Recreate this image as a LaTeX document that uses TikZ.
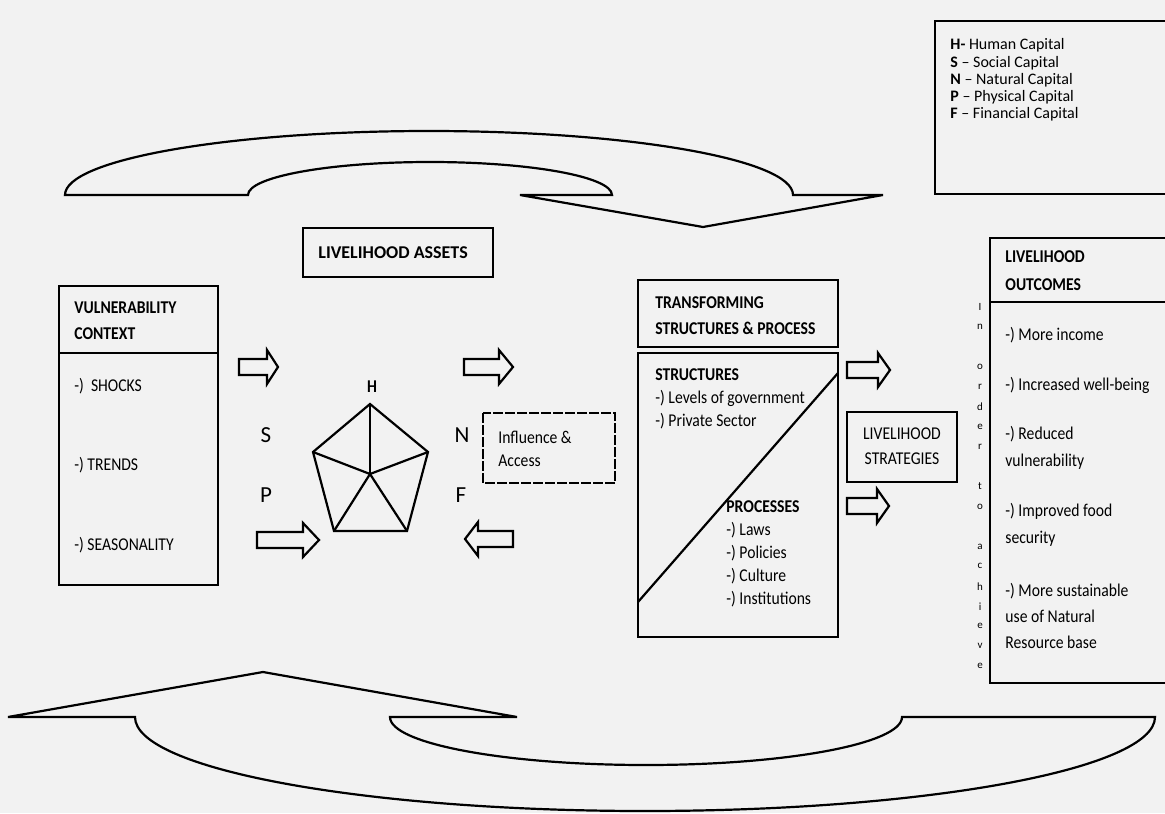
\documentclass[tikz,border=0pt]{standalone}
\usepackage{fontspec}
\setmainfont{Carlito}[FakeStretch=0.87]
\newfontfamily\legendfont{Carlito}[Ligatures=TeX]
\usetikzlibrary{positioning, calc}

\definecolor{bg}{RGB}{242,242,242}

\tikzset{
  box/.style={draw, line width=1.1pt},
  txt/.style={inner sep=0pt, anchor=west, align=left, font=\fontsize{9}{11.5}\selectfont},
  headtxt/.style={inner sep=0pt, anchor=west, align=left, font=\fontsize{9}{13}\selectfont\bfseries},
  bigarrow/.style={draw, line width=1.1pt, line join=miter},
  blockarr/.style={draw, line width=1.1pt, line join=miter},
  capletter/.style={inner sep=0pt, font=\legendfont\fontsize{11.5}{12}\selectfont},
  vletter/.style={inner sep=0pt, font=\legendfont\fontsize{5.5}{6}\selectfont},
}

% block arrow: start x, head base x, tip x, y
\newcommand{\blockarrow}[4]{%
  \draw[blockarr] (#1,{#4-8}) -- (#2,{#4-8}) -- (#2,{#4-17}) -- (#3,#4)
    -- (#2,{#4+17}) -- (#2,{#4+8}) -- (#1,{#4+8}) -- cycle;}

\begin{document}
\begin{tikzpicture}[x=0.5pt, y=-0.5pt]
\fill[bg] (0,0) rectangle (1165,813);
\useasboundingbox (0,0) rectangle (1165,813);

% big curved arrows
\draw[bigarrow] (65,195) arc[start angle=180, end angle=360, x radius=364, y radius=64]
  -- (883,195) -- (703,227) -- (520,195) -- (612,195)
  arc[start angle=360, end angle=180, x radius=182, y radius=33] -- cycle;
\draw[bigarrow] (8,717) -- (135,717)
  arc[start angle=180, end angle=0, x radius=510, y radius=94]
  -- (902,717) arc[start angle=0, end angle=180, x radius=256, y radius=48]
  -- (517,717) -- (263,672) -- cycle;

% legend
\draw[box] (935,21) rectangle (1170,194);
\node[txt, font=\legendfont\fontsize{8}{8.6}\selectfont] (legend) at (950,80)
  {\textbf{H-} Human Capital\\ \textbf{S} -- Social Capital\\ \textbf{N} -- Natural Capital\\
   \textbf{P} -- Physical Capital\\ \textbf{F} -- Financial Capital};

% livelihood assets
\draw[box] (303,228) rectangle (493,277);
\node[headtxt, font=\legendfont\fontsize{9}{13}\selectfont\bfseries] (assets) at (318,253) {LIVELIHOOD ASSETS};

% vulnerability context
\draw[box] (59,286) rectangle (218,353);
\draw[box] (59,353) rectangle (218,585);
\node[headtxt] (vulnhead) at (74,321) {VULNERABILITY\\CONTEXT};
\node[txt] (shocks) at (74,386) {-)\ \ SHOCKS};
\node[txt] (trends) at (74,465) {-) TRENDS};
\node[txt] (season) at (74,545) {-) SEASONALITY};

% pentagon of capitals
\coordinate (pH) at (370,404);
\coordinate (pS) at (313,452);
\coordinate (pP) at (334,531);
\coordinate (pF) at (407,531);
\coordinate (pN) at (428,452);
\coordinate (pc) at (370,474);
\draw[line width=1.1pt, line join=miter] (pH) -- (pS) -- (pP) -- (pF) -- (pN) -- cycle;
\foreach \v in {pH,pS,pP,pF,pN} \draw[line width=1.1pt] (pc) -- (\v);
\node[inner sep=0pt, font=\fontsize{9}{10}\selectfont\bfseries] (labH) at (372,387) {H};
\node[capletter] (labS) at (266,435) {S};
\node[capletter] (labP) at (266,495) {P};
\node[capletter] (labN) at (462,435) {N};
\node[capletter] (labF) at (461,495) {F};

% block arrows
\blockarrow{239}{267}{278}{367}
\blockarrow{257}{303}{319}{540}
\blockarrow{464}{499}{513}{367}
\blockarrow{513}{478}{465}{539}
\blockarrow{847}{878}{890}{370}
\blockarrow{847}{877}{889}{506}

% influence & access
\draw[line width=1.3pt, dash pattern=on 5pt off 1pt] (483,413) rectangle (615,483);
\node[txt] (influence) at (498,449) {Influence \&\\Access};

% transforming structures and processes
\draw[box] (638,280) rectangle (838,347);
\draw[box] (638,353) rectangle (838,637);
\draw[line width=1.1pt] (638,602) -- (838,373);
\node[headtxt] (transhead) at (655,316) {TRANSFORMING\\STRUCTURES \& PROCESS};
\node[txt] (structs) at (655,399) {\textbf{STRUCTURES}\\-) Levels of government\\-) Private Sector};
\node[txt] (procs) at (726,554) {\textbf{PROCESSES}\\-) Laws\\-) Policies\\-) Culture\\-) Institutions};

% livelihood strategies
\draw[box] (847,412) rectangle (957,482);
\node[inner sep=0pt, align=center, font=\fontsize{9}{12.5}\selectfont] (strat) at (902,446) {LIVELIHOOD\\STRATEGIES};

% in order to achieve
\foreach \ch [count=\i from 0] in {I,n,,o,r,d,e,r,,t,o,,a,c,h,i,e,v,e}
  \node[vletter] (ord\i) at (980,{307+19.95*\i}) {\ch};

% livelihood outcomes
\draw[box] (990,238) rectangle (1170,302);
\draw[box] (990,302) rectangle (1170,683);
\node[headtxt, font=\fontsize{9}{14}\selectfont\bfseries] (outhead) at (1005,271) {LIVELIHOOD\\OUTCOMES};
\node[txt] (out1) at (1005,335) {-) More income};
\node[txt] (out2) at (1005,385) {-) Increased well-being};
\node[txt, font=\fontsize{9}{13.5}\selectfont] (out3) at (1005,448) {-) Reduced\\vulnerability};
\node[txt, font=\fontsize{9}{13.5}\selectfont] (out4) at (1005,525) {-) Improved food\\security};
\node[txt, font=\fontsize{9}{13}\selectfont] (out5) at (1005,616) {-) More sustainable\\use of Natural\\Resource base};
\end{tikzpicture}
\end{document}
